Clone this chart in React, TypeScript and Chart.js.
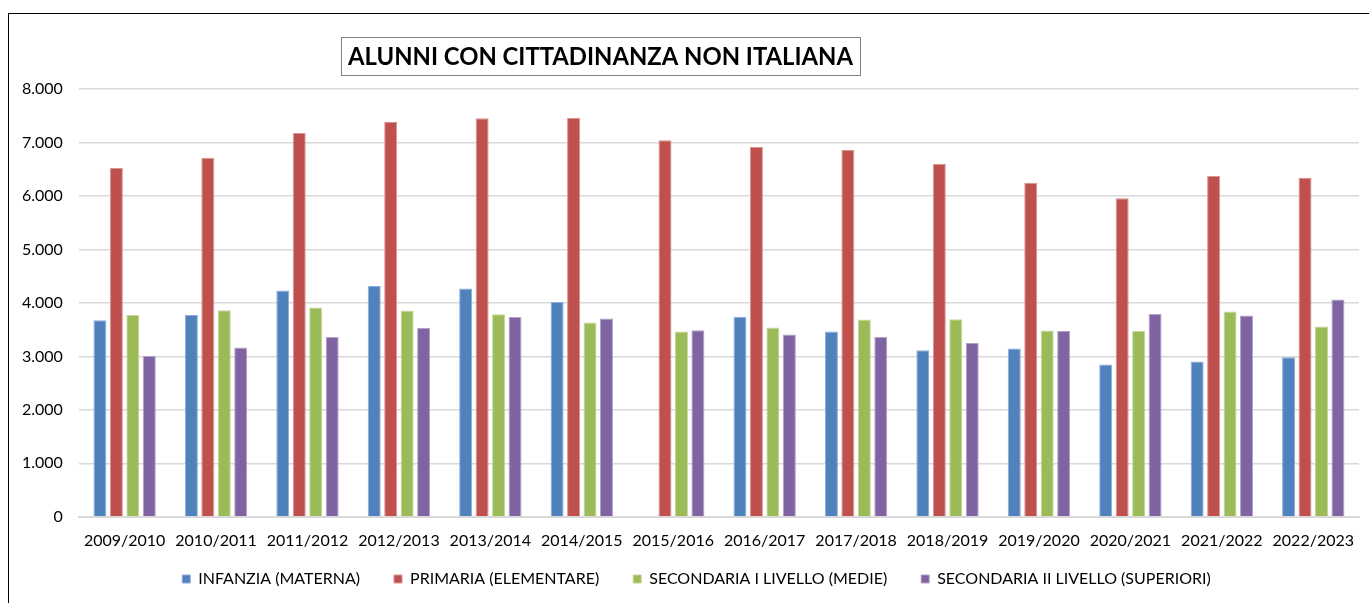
import React, { useEffect, useRef } from "react";
import { Chart, registerables } from "chart.js";

Chart.register(...registerables);

const categories = [
  "2009/2010", "2010/2011", "2011/2012", "2012/2013", "2013/2014", "2014/2015", "2015/2016",
  "2016/2017", "2017/2018", "2018/2019", "2019/2020", "2020/2021", "2021/2022", "2022/2023",
];

const infanzia = [3675, 3776, 4230, 4318, 4267, 4019, null, 3738, 3464, 3114, 3146, 2847, 2903, 2983];
const primaria = [6523, 6716, 7178, 7389, 7451, 7464, 7040, 6916, 6860, 6604, 6249, 5955, 6374, 6342];
const secondariaI = [3776, 3862, 3912, 3856, 3787, 3632, 3464, 3538, 3688, 3694, 3482, 3476, 3837, 3557];
const secondariaII = [3009, 3164, 3364, 3533, 3738, 3707, 3488, 3408, 3364, 3252, 3476, 3794, 3763, 4062];

const seriesLabels = [
  "INFANZIA (MATERNA)",
  "PRIMARIA (ELEMENTARE)",
  "SECONDARIA I LIVELLO (MEDIE)",
  "SECONDARIA II LIVELLO (SUPERIORI)",
];

const titleText = "ALUNNI CON CITTADINANZA NON ITALIANA";

const colors = ["#4F81BD", "#C0504D", "#9BBB59", "#8064A2"];
const borders = ["#8EAAD6", "#D99593", "#C3D69B", "#B2A2C7"];

const FONT = "Lato, 'Open Sans', 'Liberation Sans', sans-serif";

const formatThousands = (v: number) => String(v).replace(/\B(?=(\d{3})+(?!\d))/g, ".");

const titleBoxPlugin = {
  id: "titleBox",
  afterDraw(chart: any) {
    const ctx = chart.ctx;
    ctx.save();
    ctx.font = `bold 24px ${FONT}`;
    const m = ctx.measureText(titleText).width;
    const size = (24 * 505) / m;
    ctx.font = `bold ${size}px ${FONT}`;
    const w = ctx.measureText(titleText).width;
    const cx = 591.5;
    const cy = 42;
    const boxW = w + 14;
    const boxH = 38;
    const bx = Math.round(cx - boxW / 2) + 0.5;
    const by = Math.round(cy - boxH / 2) + 0.5;
    ctx.fillStyle = "#fff";
    ctx.fillRect(bx, by, Math.round(boxW), boxH);
    ctx.strokeStyle = "#7f7f7f";
    ctx.lineWidth = 1;
    ctx.strokeRect(bx, by, Math.round(boxW), boxH);
    ctx.fillStyle = "#000";
    ctx.textAlign = "center";
    ctx.textBaseline = "middle";
    ctx.fillText(titleText, cx, cy + 1);
    ctx.restore();
  },
};

// nudge the legend box closer to the axis labels and a little to the right
const legendNudgePlugin = {
  id: "legendNudge",
  afterLayout(chart: any) {
    const lg = chart.legend;
    if (lg) {
      lg.top -= 18;
      lg.bottom -= 18;
      lg.left += 14;
      lg.right += 14;
    }
  },
};

export default function App() {
  const ref = useRef<HTMLCanvasElement | null>(null);

  useEffect(() => {
    if (!ref.current) return;
    const data = [infanzia, primaria, secondariaI, secondariaII];
    const chart = new Chart(ref.current, {
      type: "bar",
      data: {
        labels: categories,
        datasets: data.map((d, i) => ({
          label: seriesLabels[i],
          data: d as any,
          backgroundColor: colors[i],
          borderColor: borders[i],
          borderWidth: 1,
          categoryPercentage: 0.72,
          barPercentage: 0.79,
        })),
      },
      options: {
        animation: false,
        responsive: false,
        devicePixelRatio: 1,
        layout: { padding: { top: 75, left: -3, right: 10, bottom: -12 } },
        plugins: {
          title: { display: false },
          tooltip: { enabled: false },
          legend: {
            position: "bottom",
            labels: {
              boxWidth: 8,
              boxHeight: 8,
              padding: 34,
              color: "#000",
              font: { family: FONT, size: 16 },
            },
          },
        },
        scales: {
          x: {
            grid: { display: false, drawTicks: true, tickLength: 9 },
            border: { display: true, color: "#d9d9d9", width: 2 },
            ticks: {
              color: "#000",
              font: { family: FONT, size: 16 },
              padding: 5,
              maxRotation: 0,
              autoSkip: false,
            },
          },
          y: {
            min: 0,
            max: 8000,
            grid: { color: "#d9d9d9", lineWidth: 1.5, drawTicks: false },
            border: { display: false },
            ticks: {
              stepSize: 1000,
              color: "#000",
              font: { family: FONT, size: 16 },
              padding: 16,
              callback: (v: any) => formatThousands(Number(v)),
            },
          },
        },
      },
      plugins: [titleBoxPlugin, legendNudgePlugin],
    });
    return () => chart.destroy();
  }, []);

  return (
    <div
      style={{
        position: "absolute",
        left: 8,
        top: 13,
        width: 1361,
        height: 590,
        borderLeft: "1px solid #000",
        borderTop: "1px solid #000",
        boxSizing: "border-box",
        background: "#fff",
        overflow: "hidden",
      }}
    >
      <canvas ref={ref} width={1360} height={589} style={{ display: "block" }} />
    </div>
  );
}
